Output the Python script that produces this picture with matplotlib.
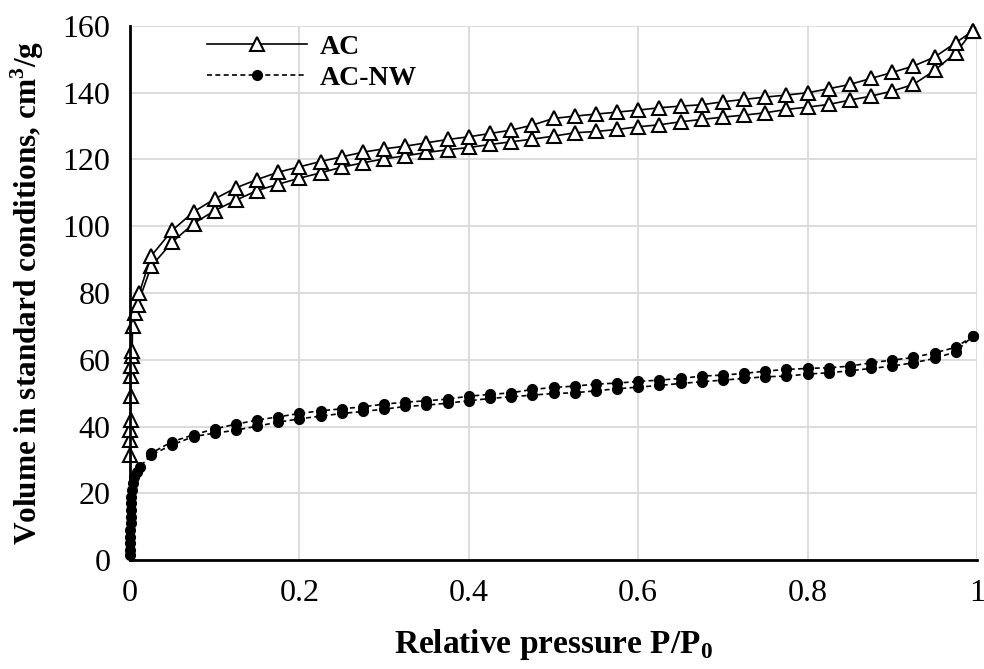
import numpy as np
import matplotlib
matplotlib.use('Agg')
import matplotlib.pyplot as plt

plt.rcParams['font.family'] = ['Liberation Serif', 'DejaVu Serif']
plt.rcParams['mathtext.fontset'] = 'custom'
plt.rcParams['mathtext.rm'] = 'Liberation Serif'
plt.rcParams['mathtext.bf'] = 'Liberation Serif:bold'

# AC - adsorption branch
ac_ads_x = [0.0001, 0.0002, 0.0004, 0.0006, 0.0008, 0.001, 0.0015, 0.002, 0.0025,
            0.003, 0.006, 0.009, 0.025, 0.05, 0.075, 0.1, 0.125, 0.15, 0.175, 0.2,
            0.225, 0.25, 0.275, 0.3, 0.325, 0.35, 0.375, 0.4, 0.425, 0.45, 0.475,
            0.5, 0.525, 0.55, 0.575, 0.6, 0.625, 0.65, 0.675, 0.7, 0.725, 0.75,
            0.775, 0.8, 0.825, 0.85, 0.875, 0.9, 0.925, 0.95, 0.975, 0.995]
ac_ads_y = [31.5, 36, 39, 42, 49, 55, 58, 61, 62.5,
            70, 74, 76.5, 88, 95.3, 100.8, 104.7, 107.8, 110.7, 112.6, 114.4,
            116, 117.7, 119, 120.2, 121.1, 122.1, 122.9, 123.6, 124.5, 125.3, 126.1,
            127, 128, 128.4, 129, 129.8, 130.4, 131.3, 132, 132.7, 133.3, 134,
            135, 135.7, 136.5, 137.8, 139, 140.5, 142.5, 146.7, 152, 158.5]

# AC - desorption branch
ac_des_x = [0.995, 0.975, 0.95, 0.925, 0.9, 0.875, 0.85, 0.825, 0.8, 0.775, 0.75,
            0.725, 0.7, 0.675, 0.65, 0.625, 0.6, 0.575, 0.55, 0.525, 0.5, 0.475,
            0.45, 0.425, 0.4, 0.375, 0.35, 0.325, 0.3, 0.275, 0.25, 0.225, 0.2,
            0.175, 0.15, 0.125, 0.1, 0.075, 0.05, 0.025, 0.011]
ac_des_y = [158.5, 155, 150.7, 148, 146.1, 144.3, 142.5, 141.2, 140, 139.3, 138.7,
            138, 137.3, 136.4, 136, 135.5, 134.8, 134.2, 133.6, 133, 132.3, 130.3,
            128.8, 127.8, 126.8, 126, 125, 124, 123.2, 122.2, 120.8, 119.4, 117.8,
            116.2, 114, 111.5, 108.2, 104.3, 98.8, 91.1, 80]

# AC-NW - adsorption branch
nw_ads_x = [0.0001, 0.0002, 0.0003, 0.0004, 0.0005, 0.0006, 0.0008, 0.001, 0.0012,
            0.0015, 0.002, 0.003, 0.005, 0.008, 0.012, 0.025, 0.05, 0.075, 0.1,
            0.125, 0.15, 0.175, 0.2, 0.225, 0.25, 0.275, 0.3, 0.325, 0.35, 0.375,
            0.4, 0.425, 0.45, 0.475, 0.5, 0.525, 0.55, 0.575, 0.6, 0.625, 0.65,
            0.675, 0.7, 0.725, 0.75, 0.775, 0.8, 0.825, 0.85, 0.875, 0.9, 0.925,
            0.95, 0.975, 0.995]
nw_ads_y = [1.5, 3, 5, 7, 9, 11, 13, 15, 17,
            19, 21, 23, 25, 26.5, 28, 31.5, 34.5, 37, 38,
            38.9, 40.1, 41.3, 42.3, 43.1, 43.9, 44.5, 45.2, 46, 46.4, 47,
            47.7, 48.4, 48.9, 49.4, 49.9, 50.1, 50.7, 51.3, 51.8, 52.3, 52.9,
            53.4, 53.9, 54.4, 54.9, 55.1, 55.7, 56.1, 56.7, 57.4, 58.1, 59.1,
            60.4, 62.4, 67.1]

# AC-NW - desorption branch
nw_des_x = [0.995, 0.975, 0.95, 0.925, 0.9, 0.875, 0.85, 0.825, 0.8, 0.775, 0.75,
            0.725, 0.7, 0.675, 0.65, 0.625, 0.6, 0.575, 0.55, 0.525, 0.5, 0.475,
            0.45, 0.425, 0.4, 0.375, 0.35, 0.325, 0.3, 0.275, 0.25, 0.225, 0.2,
            0.175, 0.15, 0.125, 0.1, 0.075, 0.05, 0.025]
nw_des_y = [67.1, 63.7, 62.1, 60.7, 59.9, 59.1, 58.1, 57.6, 57.4, 57.1, 56.6,
            55.9, 55.4, 55.1, 54.4, 53.9, 53.5, 53, 52.7, 52.1, 51.7, 51.1,
            50.1, 49.6, 49.1, 48.2, 47.7, 47.3, 46.7, 45.9, 45.3, 44.7, 43.9,
            42.9, 41.9, 40.7, 39.3, 37.5, 35.5, 32]

fig = plt.figure(figsize=(9.84, 6.69), dpi=100)
ax = fig.add_axes([130/984, 1 - 560/669, 847/984, 534/669])

ac_style = dict(color='black', lw=1.2, marker='^', markersize=10,
                markerfacecolor='white', markeredgecolor='black', markeredgewidth=1.5,
                clip_on=False)
nw_style = dict(color='black', lw=1.2, ls=(0, (3, 2)), marker='o', markersize=7,
                markerfacecolor='black', markeredgecolor='black', clip_on=False)

ax.plot(ac_ads_x, ac_ads_y, label='AC', **ac_style)
ax.plot(ac_des_x, ac_des_y, **ac_style)
ax.plot(nw_ads_x, nw_ads_y, label='AC-NW', **nw_style)
ax.plot(nw_des_x, nw_des_y, **nw_style)

ax.set_xlim(0, 1)
ax.set_ylim(0, 160)
ax.set_xticks([0, 0.2, 0.4, 0.6, 0.8, 1])
ax.set_xticklabels(['0', '0.2', '0.4', '0.6', '0.8', '1'])
ax.set_yticks(np.arange(0, 161, 20))
ax.grid(True, color='#d9d9d9', lw=1.3)
ax.set_axisbelow(True)
for s in ['top', 'right']:
    ax.spines[s].set_visible(False)
ax.spines['left'].set_linewidth(2)
ax.spines['bottom'].set_linewidth(2)
ax.tick_params(length=0, labelsize=23, pad=14)

ax.set_xlabel(r'Relative pressure P/P$_\mathbf{0}$', fontsize=24, fontweight='bold', labelpad=13)
ax.set_ylabel(r'Volume in standard conditions, cm$^\mathbf{3}$/g', fontsize=22.5,
              fontweight='bold', labelpad=12)

leg = ax.legend(loc='upper left', bbox_to_anchor=(0.078, 1.005), borderaxespad=0,
                frameon=False, handlelength=3.6, handletextpad=0.45,
                prop={'weight': 'bold', 'size': 20}, labelspacing=0.2)

fig.savefig('out.png', dpi=100)
